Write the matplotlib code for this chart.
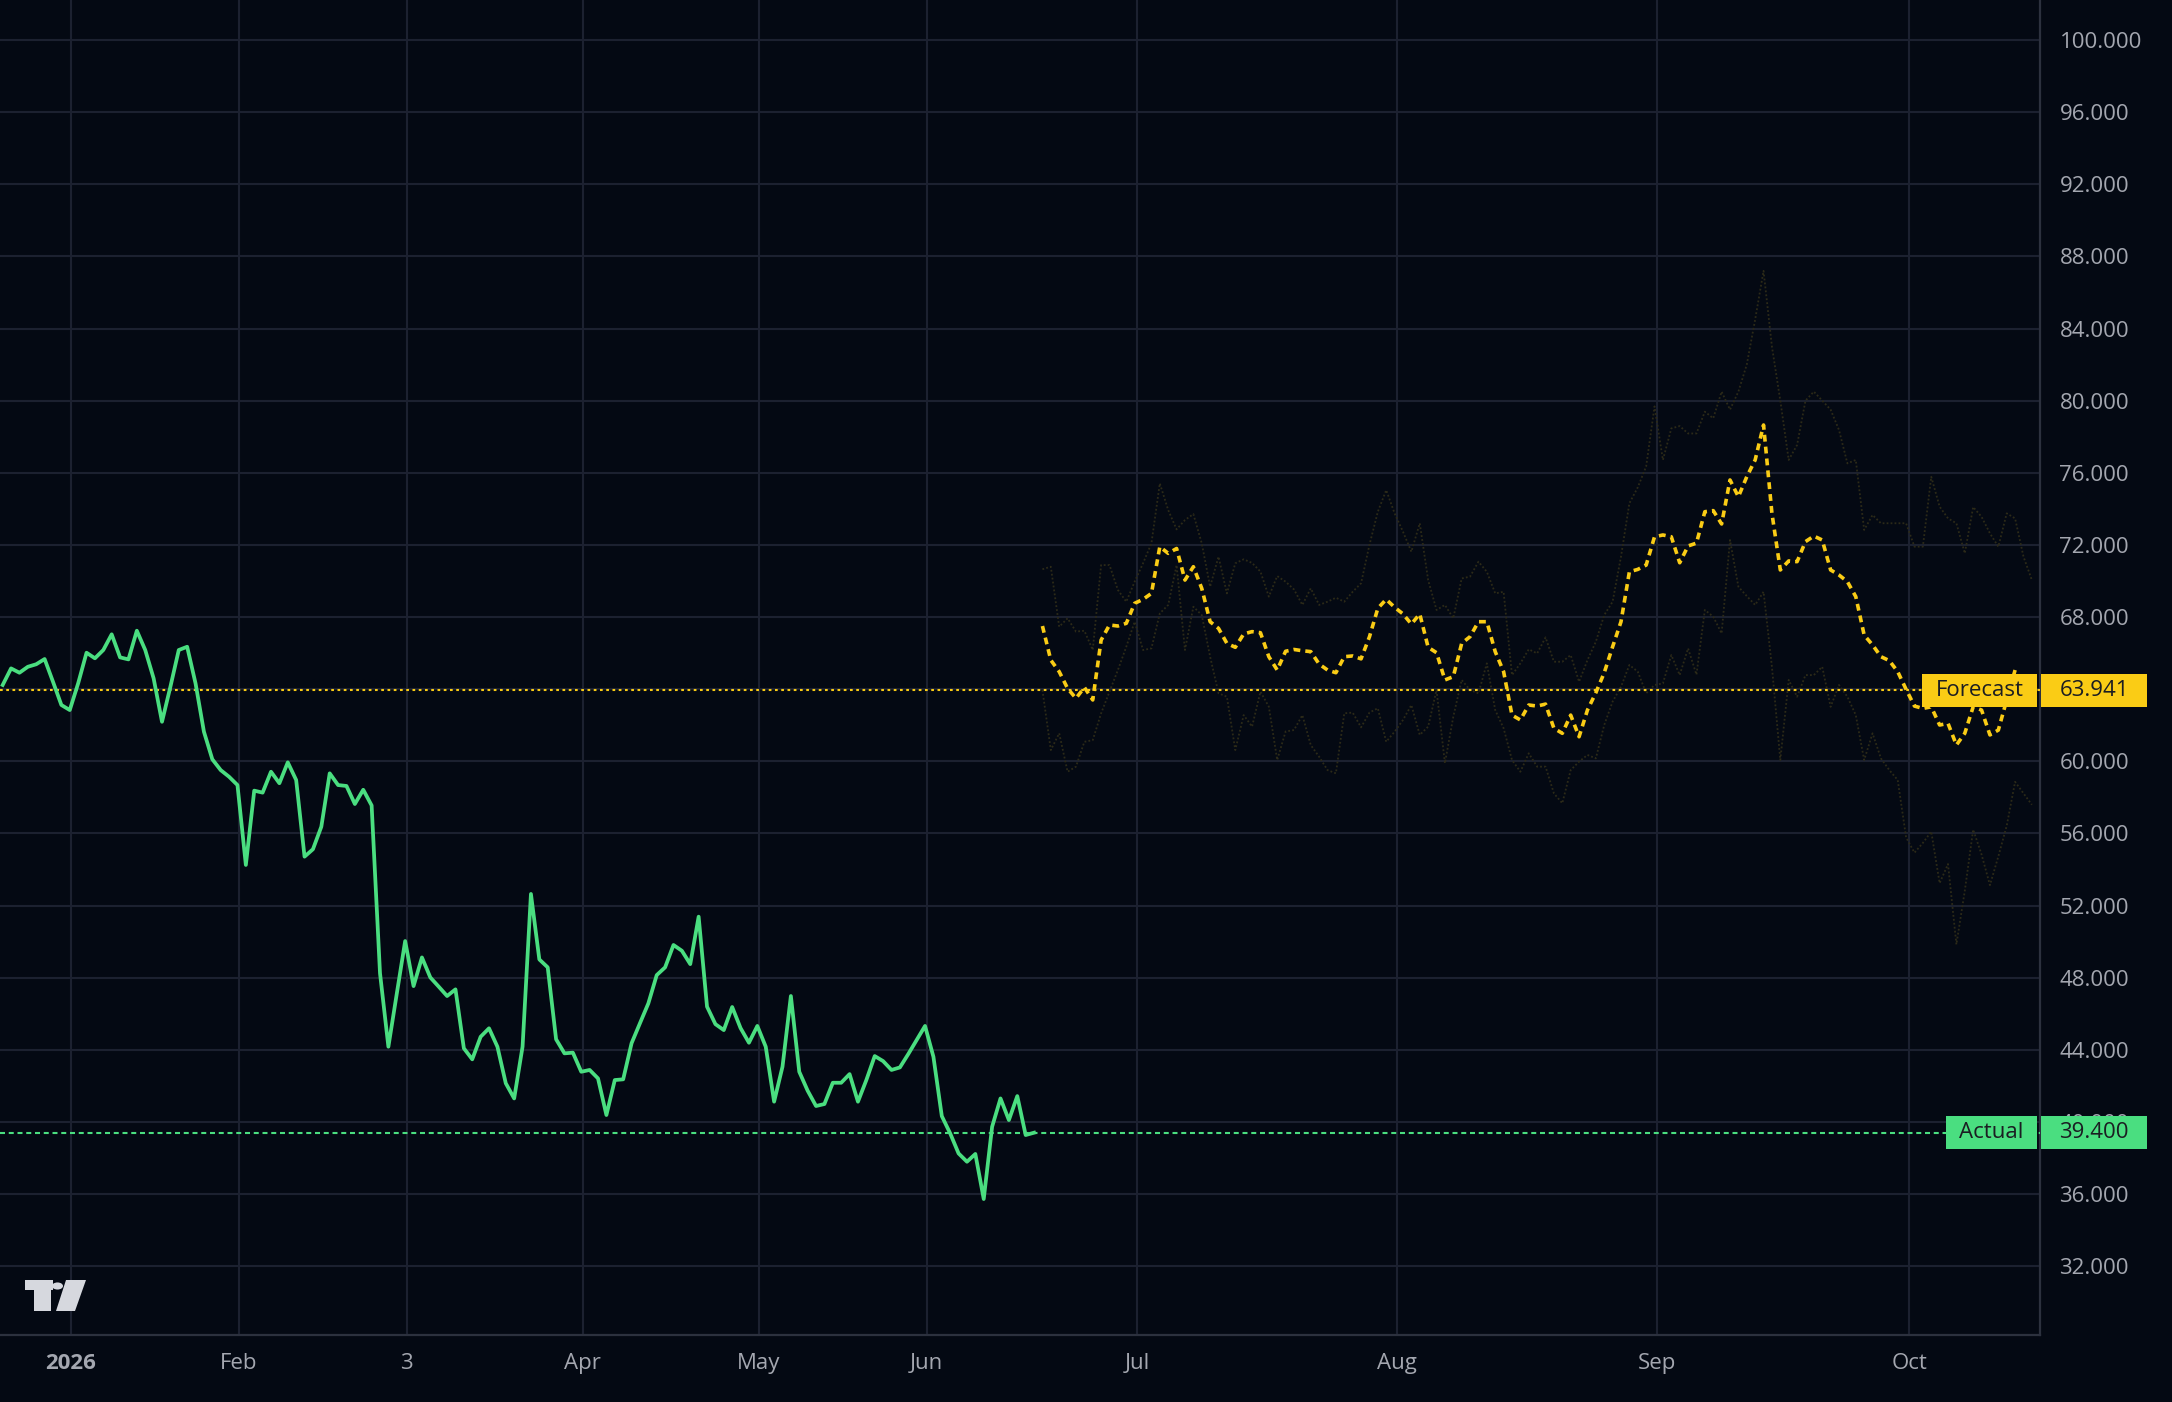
import numpy as np
import matplotlib
matplotlib.use("Agg")
import matplotlib.pyplot as plt
from matplotlib import transforms
from matplotlib.patches import Rectangle, Polygon, Circle

plt.rcParams['font.family'] = ['Open Sans', 'DejaVu Sans']

# actual series, one value per trading bar
actual = [
    64.23, 65.15, 64.91, 65.24, 65.38, 65.67, 64.41, 63.12, 62.84, 64.32,
    66.02, 65.71, 66.17, 67.04, 65.76, 65.65, 67.24, 66.17, 64.6, 62.19,
    64.13, 66.17, 66.35, 64.32, 61.64, 60.11, 59.51, 59.14, 58.68, 54.25,
    58.37, 58.26, 59.42, 58.78, 59.94, 58.96, 54.71, 55.12, 56.37, 59.33,
    58.68, 58.63, 57.63, 58.42, 57.55, 48.24, 44.17, 47.11, 50.03, 47.53,
    49.12, 48.01, 47.5, 46.98, 47.35, 44.08, 43.47, 44.72, 45.19, 44.17,
    42.14, 41.3, 44.17, 52.64, 49.01, 48.57, 44.58, 43.8, 43.84, 42.78,
    42.88, 42.41, 40.38, 42.32, 42.36, 44.36, 45.47, 46.57, 48.14, 48.57,
    49.81, 49.49, 48.75, 51.38, 46.39, 45.42, 45.09, 46.37, 45.2, 44.39,
    45.32, 44.17, 41.12, 43.06, 46.98, 42.78, 41.73, 40.88, 40.99, 42.17,
    42.17, 42.65, 41.12, 42.32, 43.65, 43.37, 42.88, 43.02, 43.76, 44.54,
    45.32, 43.61, 40.32, 39.36, 38.25, 37.79, 38.22, 35.72, 39.73, 41.3,
    40.1, 41.43, 39.27, 39.4,
]

# forecast series, daily bars after the last actual bar
forecast = [
    67.5, 65.61, 64.97, 64.04, 63.49, 64.1, 63.4, 66.72, 67.56, 67.5,
    67.65, 68.76, 68.98, 69.31, 71.9, 71.53, 71.8, 70.05, 70.79, 69.59,
    67.74, 67.37, 66.54, 66.32, 67.06, 67.19, 67.13, 65.8, 65.06, 66.1,
    66.2, 66.13, 66.08, 65.39, 65.06, 64.91, 65.8, 65.84, 65.68, 66.9,
    68.48, 68.98, 68.54, 68.17, 67.61, 68.17, 66.32, 66.02, 64.51, 64.69,
    66.54, 66.91, 67.74, 67.74, 66.08, 64.97, 62.56, 62.29, 63.12, 63.06,
    63.17, 61.83, 61.55, 62.56, 61.36, 62.84, 63.8, 64.91, 66.35, 67.74,
    70.51, 70.64, 70.88, 72.45, 72.55, 72.45, 71.01, 71.94, 72.1, 73.84,
    73.9, 73.16, 75.6, 74.67, 75.78, 76.71, 78.65, 73.75, 70.61, 71.11,
    71.07, 72.18, 72.49, 72.27, 70.61, 70.33, 69.96, 69.13, 67.0, 66.45,
    65.8, 65.58, 64.97, 63.99, 63.06, 62.93, 63.02, 62.01, 62.1, 60.9,
    61.55, 63.02, 62.84, 61.46, 61.73, 63.4, 65.06,
]

upper = [
    70.65, 70.79, 67.46, 67.93, 67.19, 67.24, 66.17, 70.88, 70.88, 69.5,
    68.85, 69.96, 70.98, 72.09, 75.41, 73.93, 72.86, 73.38, 73.71, 72.09,
    69.68, 71.35, 69.31, 70.98, 71.2, 71.0, 70.52, 69.13, 70.27, 69.96,
    69.53, 68.67, 69.59, 68.67, 68.85, 69.07, 68.85, 69.4, 69.87, 72.0,
    73.84, 75.04, 73.75, 72.73, 71.62, 73.2, 70.05, 68.39, 68.67, 67.93,
    70.14, 70.24, 71.07, 70.51, 69.31, 69.4, 64.78, 65.43, 66.21, 65.98,
    66.87, 65.52, 65.52, 65.89, 64.41, 65.61, 66.63, 68.11, 68.85, 71.35,
    74.31, 75.19, 76.35, 79.68, 76.71, 78.46, 78.59, 78.18, 78.18, 79.39,
    79.02, 80.5, 79.5, 80.5, 82.0, 84.5, 87.2, 83.0, 80.0, 76.71,
    77.54, 80.0, 80.5, 80.0, 79.5, 78.37, 76.52, 76.71, 72.83, 73.66,
    73.2, 73.2, 73.2, 73.2, 71.9, 71.9, 75.78, 74.12, 73.47, 73.2,
    71.53, 74.1, 73.56, 72.64, 71.9, 73.75, 73.47, 71.35, 70.05,
]

lower = [
    63.95, 60.62, 61.55, 59.42, 59.7, 61.08, 61.17, 62.66, 63.86, 65.06,
    66.35, 67.74, 66.17, 66.26, 68.2, 68.67, 70.88, 66.17, 68.57, 68.11,
    65.8, 63.77, 63.58, 60.62, 62.56, 61.92, 63.86, 63.03, 60.07, 61.65,
    61.73, 62.56, 60.9, 60.25, 59.51, 59.33, 62.66, 62.7, 61.88, 62.7,
    62.94, 61.08, 61.64, 62.29, 63.12, 61.46, 61.92, 63.95, 59.89, 62.47,
    64.51, 63.95, 63.77, 65.43, 62.84, 61.83, 60.07, 59.42, 60.44, 59.7,
    59.7, 58.22, 57.67, 59.51, 59.98, 60.35, 60.16, 62.01, 63.31, 64.13,
    65.34, 64.97, 63.77, 64.23, 64.32, 65.89, 64.78, 66.26, 64.8, 68.39,
    68.02, 67.09, 72.27, 69.68, 69.16, 68.67, 69.4, 65.24, 60.07, 64.51,
    63.58, 64.78, 64.78, 65.24, 63.02, 64.23, 63.58, 62.56, 60.07, 61.55,
    60.16, 59.51, 58.96, 55.78, 54.93, 55.47, 56.1, 53.24, 54.3, 49.84,
    52.81, 56.21, 54.83, 53.13, 54.72, 56.42, 58.86, 58.22, 57.59,
]

month_labels = ["2026", "Feb", "3", "Apr", "May", "Jun", "Jul", "Aug", "Sep", "Oct"]
month_bars = [8.15, 28.18, 48.2, 69.15, 90.2, 110.2, 135.3, 166.3, 197.3, 227.4]

forecast_level = 63.941
actual_level = 39.4

bg = '#040913'
grid_c = '#1c2130'
text_c = '#a4a7b0'
green = '#4ade80'
yellow = '#facc15'

W, H = 2172, 1402
fig = plt.figure(figsize=(W / 100, H / 100), dpi=100)
fig.patch.set_facecolor(bg)
ax = fig.add_axes([0, 1 - 1335 / H, 2040 / W, 1335 / H])
ax.set_facecolor(bg)

x_act = np.arange(len(actual))
x_fc = len(actual) + np.arange(len(forecast))
x_band = len(actual) + np.arange(len(upper))

ax.plot(x_band, upper, color='#2c2a18', lw=1.3, ls=(0, (1, 1.2)), zorder=2)
ax.plot(x_band, lower, color='#2c2a18', lw=1.3, ls=(0, (1, 1.2)), zorder=2)

ax.axhline(forecast_level, color=yellow, lw=1.5, ls=(0, (1.3, 1.7)), zorder=3)
ax.axhline(actual_level, color=green, lw=1.5, ls=(0, (2.4, 1.8)), zorder=3)

ax.plot(x_act, actual, color=green, lw=2.7, solid_joinstyle='round', zorder=4)
ax.plot(x_fc, forecast, color=yellow, lw=2.6, ls=(0, (1.9, 1.4)), zorder=4)

ax.set_xlim(-0.32, 242.97)
ax.set_ylim(28.18, 102.22)

yt = np.arange(32, 101, 4)
ax.set_yticks(yt)
ax.set_yticklabels([f"{v:.3f}" for v in yt])
ax.yaxis.tick_right()
ax.set_xticks(month_bars)
ax.set_xticklabels(month_labels)
ax.get_xticklabels()[0].set_fontweight('bold')
ax.tick_params(axis='y', length=0, pad=14, labelsize=16, labelcolor=text_c)
ax.tick_params(axis='x', length=0, pad=13, labelsize=16, labelcolor=text_c)
ax.grid(True, color=grid_c, lw=1.5)
ax.set_axisbelow(True)

for s in ['top', 'left']:
    ax.spines[s].set_visible(False)
for s in ['right', 'bottom']:
    ax.spines[s].set_color('#2c313e')
    ax.spines[s].set_linewidth(1.6)

# price tags on the right axis
blend = transforms.blended_transform_factory(ax.transAxes, ax.transData)
half_h = 0.92


def price_tag(level, tag, tag_left, color):
    x0 = tag_left / 2040
    x1 = 2037 / 2040
    ax.add_patch(Rectangle((x0, level - half_h), x1 - x0, 2 * half_h, transform=blend,
                           facecolor=color, edgecolor='none', clip_on=False, zorder=6))
    ax.add_patch(Rectangle((1.0005, level - half_h), 106 / 2040, 2 * half_h, transform=blend,
                           facecolor=color, edgecolor='none', clip_on=False, zorder=6))
    ax.text((x0 + x1) / 2, level, tag, transform=blend, ha='center', va='center',
            color='#1b1d22', fontsize=16, zorder=7, clip_on=False)
    ax.text(1.0005 + 53 / 2040, level, f"{level:.3f}", transform=blend, ha='center',
            va='center', color='#1b1d22', fontsize=16, zorder=7, clip_on=False)


price_tag(forecast_level, "Forecast", 1922, yellow)
price_tag(actual_level, "Actual", 1946, green)


# small logo in the lower left corner
def fp(x, y):
    return (x / W, 1 - y / H)


logo_c = '#d6d8de'
fig.patches.append(Polygon([fp(24.6, 1280), fp(52.6, 1280), fp(52.6, 1290), fp(50.5, 1290),
                            fp(50.5, 1311), fp(33.7, 1311), fp(33.7, 1290), fp(24.6, 1290)],
                           closed=True, transform=fig.transFigure, facecolor=logo_c,
                           edgecolor='none', zorder=8))
fig.patches.append(Circle(fp(57.5, 1286), 5.5 / W, transform=fig.transFigure,
                          facecolor=logo_c, edgecolor='none', zorder=8))
fig.patches.append(Polygon([fp(66, 1280), fp(86, 1280), fp(75, 1311), fp(56, 1311)],
                           closed=True, transform=fig.transFigure, facecolor=logo_c,
                           edgecolor='none', zorder=8))

fig.savefig("out.png", dpi=100, facecolor=bg)
